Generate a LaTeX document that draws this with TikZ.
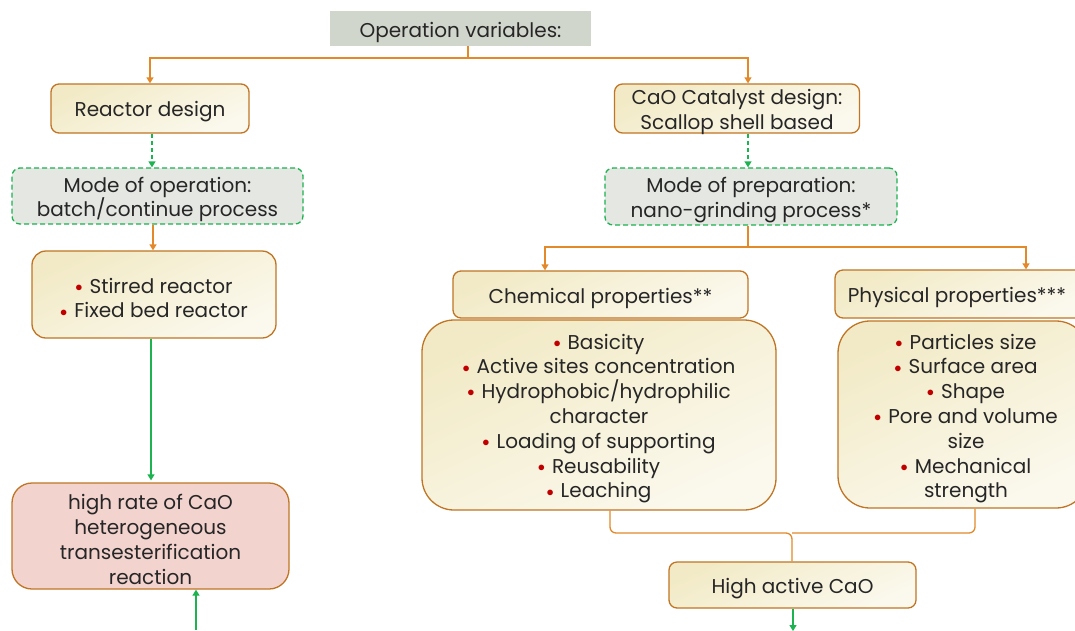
\documentclass[tikz,border=0pt]{standalone}
\usepackage{fontspec}
\setmainfont{Poppins}
\usetikzlibrary{arrows.meta,calc}
\definecolor{txt}{HTML}{262626}
\definecolor{bord}{HTML}{C07524}
\definecolor{orng}{HTML}{E3892A}
\definecolor{grn}{HTML}{1CB350}
\definecolor{creamA}{HTML}{F2EAC6}
\definecolor{creamB}{HTML}{FBF9EE}
\definecolor{opgray}{HTML}{D1D6CC}
\definecolor{dgray}{HTML}{E4E7E2}
\definecolor{pinkf}{HTML}{F3D3CE}
\definecolor{bulred}{HTML}{C00000}
\newcommand\bl{\raisebox{1.8pt}{\textcolor{bulred}{\fontsize{15}{15}\selectfont$\bullet$}}\hspace{7pt}}
\begin{document}
\begin{tikzpicture}[x=1pt,y=-1pt,
  every node/.style={inner sep=0pt},
  tx/.style={font=\fontsize{20}{24.8}\selectfont, text=txt, align=center, yshift=-3.5pt},
  cream/.style={draw=bord, line width=1.3pt, rounded corners=8pt, top color=creamA, bottom color=creamB, shading angle=25},
  dashbox/.style={draw=grn, line width=1.3pt, dash pattern=on 5pt off 3pt, rounded corners=8pt, fill=dgray},
  oarrow/.style={draw=orng, line width=1.3pt, -{Triangle[width=7pt,length=6pt]}},
  oline/.style={draw=orng, line width=1.3pt},
  garrow/.style={draw=grn, line width=1.3pt, -{Triangle[width=7pt,length=6pt]}},
  gdash/.style={draw=grn, line width=1.3pt, dash pattern=on 4pt off 3pt, -{Triangle[width=7pt,length=6pt]}}]
\clip (0,0) rectangle (1075,630);
\fill[white] (0,0) rectangle (1075,630);
% boxes
\node[fill=opgray, minimum width=261pt, minimum height=35pt] (opvar) at (460.5,28.5) {};
\node[cream, minimum width=198pt, minimum height=49pt] (reactor) at (150,108.5) {};
\node[dashbox, minimum width=291pt, minimum height=56pt] (modeop) at (157.5,196) {};
\node[cream, rounded corners=14pt, minimum width=244pt, minimum height=87pt] (stirred) at (154,294.5) {};
\node[draw=bord, line width=1.3pt, rounded corners=20pt, fill=pinkf, minimum width=277pt, minimum height=106pt] (highrate) at (150.5,536) {};
\node[cream, minimum width=245pt, minimum height=49pt] (catalyst) at (737,108.5) {};
\node[dashbox, minimum width=292pt, minimum height=57pt] (modeprep) at (751,196.5) {};
\node[cream, minimum width=295pt, minimum height=47pt] (chemhead) at (600.5,294.5) {};
\node[cream, minimum width=250pt, minimum height=48pt] (physhead) at (960,294) {};
\node[cream, rounded corners=32pt, minimum width=354pt, minimum height=190pt] (chemlist) at (599,415) {};
\node[cream, rounded corners=32pt, minimum width=250pt, minimum height=187pt] (physlist) at (963,414.5) {};
\node[cream, minimum width=247pt, minimum height=46pt] (highcao) at (792.5,585) {};
% texts
\node[tx] (opvar-t) at (opvar) {Operation variables:};
\node[tx] (reactor-t) at (reactor) {Reactor design};
\node[tx] (modeop-t) at (modeop) {Mode of operation:\\batch/continue process};
\node[tx] (stirred-t) at (stirred) {\bl Stirred reactor\\\bl Fixed bed reactor};
\node[tx] (highrate-t) at (highrate) {high rate of CaO\\heterogeneous\\transesterification\\reaction};
\node[tx] (catalyst-t) at (catalyst) {CaO Catalyst design:\\Scallop shell based};
\node[tx] (modeprep-t) at (modeprep) {Mode of preparation:\\nano-grinding process*};
\node[tx] (chemhead-t) at (chemhead) {Chemical properties**};
\node[tx] (physhead-t) at (957,294) {Physical properties***};
\node[tx] (chemlist-t) at (chemlist) {\bl Basicity\\\bl Active sites concentration\\\bl Hydrophobic/hydrophilic\\character\\\bl Loading of supporting\\\bl Reusability\\\bl Leaching};
\node[tx] (physlist-t) at (966,415) {\bl Particles size\\\bl Surface area\\\bl Shape\\\bl Pore and volume\\size\\\bl Mechanical\\strength};
\node[tx] (highcao-t) at (highcao) {High active CaO};
% coordinates
\coordinate (t1) at (468,58);
\coordinate (t2) at (748,247);
\coordinate (j) at (792,533);
\coordinate (bot1) at (196,630);
\coordinate (bot2) at (793,631);
% connectors
\draw[oline] (opvar.south -| t1) -- (t1);
\draw[oarrow] (t1) -| (reactor.north);
\draw[oarrow] (t1) -| (catalyst.north -| 748,0);
\draw[gdash] (reactor.south -| 152,0) -- (modeop.north -| 152,0);
\draw[oarrow] (modeop.south -| 153,0) -- (stirred.north -| 153,0);
\draw[garrow] (stirred.south -| 151,0) -- ($(highrate.north -| 151,0)+(0,-2)$);
\draw[garrow] (bot1) -- (highrate.south -| bot1);
\draw[gdash] (catalyst.south -| 748,0) -- (modeprep.north -| 748,0);
\draw[oarrow] (modeprep.south -| t2) -- (t2) -| (chemhead.north -| 545,0);
\draw[oarrow] (t2) -| (physhead.north -| 1026,0);
\draw[oline, rounded corners=6pt] (chemlist.south -| 610,0) |- (j) -- (highcao.north -| j);
\draw[oline, rounded corners=6pt] (physlist.south -| 975,0) |- (j);
\draw[garrow] (highcao.south -| bot2) -- (bot2);
\end{tikzpicture}
\end{document}
